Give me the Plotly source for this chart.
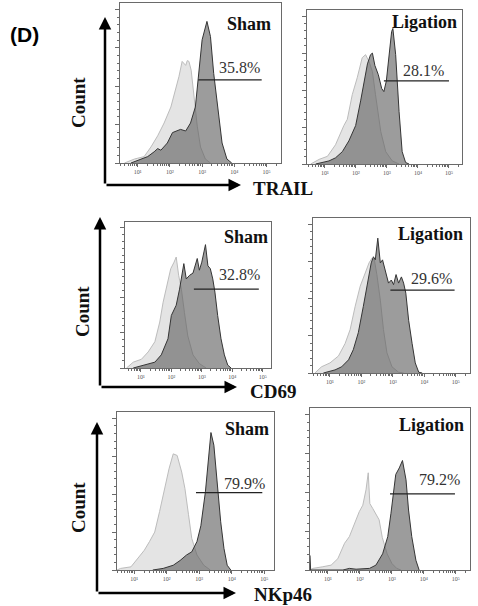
import numpy as np
import plotly.graph_objects as go

W, H = 478, 606

# x = log10 fluorescence, y = count as % of panel height
# light = control, dark = stained
trail_sham_ctrl_lx = [0.59, 0.9, 1.2, 1.41, 1.62, 1.82, 2.03, 2.18, 2.28, 2.38, 2.44, 2.49, 2.54, 2.59, 2.66, 2.74, 2.85, 2.95, 3.1, 3.26]
trail_sham_ctrl_y = [0, 2.5, 4, 10, 17, 25, 35, 46, 54, 63.5, 62, 61, 64, 63.5, 58, 44, 23, 10, 2.5, 0]
trail_sham_stain_lx = [0.79, 1.31, 1.51, 1.62, 1.72, 1.92, 2.08, 2.23, 2.33, 2.49, 2.64, 2.79, 2.9, 3.0, 3.15, 3.26, 3.36, 3.51, 3.62, 3.77, 3.92]
trail_sham_stain_y = [0, 4, 7, 9, 8, 12.5, 19, 20, 21, 20, 25, 35, 56, 77, 88.5, 79, 56, 29, 12.5, 2.5, 0]

trail_lig_ctrl_lx = [0.54, 0.81, 1.08, 1.34, 1.61, 1.72, 1.88, 2.04, 2.2, 2.31, 2.42, 2.53, 2.63, 2.8, 2.96, 3.17, 3.39]
trail_lig_ctrl_y = [0, 3, 5, 12.5, 25, 29, 45, 56, 69, 71, 66.5, 60, 45, 21, 8, 2, 0]
trail_lig_stain_lx = [0.7, 1.13, 1.34, 1.56, 1.77, 1.99, 2.15, 2.26, 2.37, 2.47, 2.53, 2.61, 2.72, 2.83, 2.9, 2.98, 3.06, 3.15, 3.19, 3.28, 3.39, 3.49, 3.6, 3.71]
trail_lig_stain_y = [0, 2, 4, 8, 15, 25, 41, 54, 65, 71, 72, 64, 58, 49, 47, 54, 68, 86, 88, 71, 34, 8, 1, 0]

cd69_sham_ctrl_lx = [0.53, 0.75, 1.02, 1.24, 1.46, 1.62, 1.73, 1.87, 1.98, 2.09, 2.16, 2.24, 2.33, 2.43, 2.54, 2.71, 2.92, 3.14]
cd69_sham_ctrl_y = [0, 4, 6, 11, 18, 31.5, 45, 59, 68, 72.5, 76, 63.5, 54, 38, 22, 9, 3, 0]
cd69_sham_stain_lx = [0.75, 1.13, 1.46, 1.67, 1.89, 2.0, 2.16, 2.27, 2.35, 2.41, 2.49, 2.6, 2.71, 2.78, 2.85, 2.92, 3.0, 3.07, 3.12, 3.2, 3.28, 3.36, 3.43, 3.52, 3.63, 3.74, 3.85, 3.96]
cd69_sham_stain_y = [0, 2, 4, 9, 20, 36, 43, 54, 63.5, 71.5, 61, 63.5, 65, 70, 75, 67, 72.5, 79.5, 84.5, 70, 68, 61, 52, 36, 20, 9, 2, 0]

cd69_lig_ctrl_lx = [0.52, 0.73, 1.0, 1.27, 1.48, 1.64, 1.8, 1.96, 2.12, 2.24, 2.33, 2.41, 2.49, 2.6, 2.7, 2.81, 2.97, 3.18, 3.34]
cd69_lig_ctrl_y = [0, 4, 6.5, 11, 19, 28, 43, 56, 64.5, 71, 74, 73, 63.5, 47, 28, 13, 4, 0.5, 0]
cd69_lig_stain_lx = [0.79, 1.16, 1.37, 1.59, 1.74, 1.9, 2.06, 2.2, 2.31, 2.38, 2.44, 2.52, 2.6, 2.67, 2.76, 2.86, 2.95, 3.02, 3.1, 3.18, 3.27, 3.34, 3.41, 3.5, 3.61, 3.71, 3.82, 3.93]
cd69_lig_stain_y = [0, 2, 4, 8.5, 15, 26, 43, 60, 71, 75, 73, 87, 71, 73, 66, 58, 60, 57, 63.5, 58, 62, 58, 51.5, 34, 19, 6.5, 0.5, 0]

nkp46_sham_ctrl_lx = [0.47, 0.58, 0.9, 1.1, 1.31, 1.47, 1.63, 1.78, 1.94, 2.07, 2.2, 2.32, 2.46, 2.56, 2.67, 2.77, 2.93, 3.14, 3.34]
nkp46_sham_ctrl_y = [0, 1, 2, 7, 12.5, 18, 24, 37, 51.5, 64, 73.5, 72.5, 62, 51.5, 35, 20, 9.5, 3, 0]
nkp46_sham_stain_lx = [1.57, 1.89, 2.2, 2.41, 2.61, 2.77, 2.93, 3.05, 3.19, 3.29, 3.36, 3.45, 3.55, 3.66, 3.76, 3.86, 3.97]
nkp46_sham_stain_y = [0, 1, 3, 6, 9.5, 11.5, 18, 28, 49.5, 75, 87, 79, 54, 30.5, 13.7, 3, 0]

nkp46_lig_ctrl_lx = [0.44, 0.53, 0.84, 1.1, 1.31, 1.52, 1.67, 1.83, 1.98, 2.09, 2.14, 2.19, 2.26, 2.31, 2.4, 2.5, 2.6, 2.7, 2.85, 3.0, 3.15, 3.28]
nkp46_lig_ctrl_y = [0, 1, 2, 3, 7, 16.5, 20.6, 29, 36, 40, 45, 49.5, 60, 41, 38, 34, 31, 20, 10, 4, 1, 0]
nkp46_lig_stain_lx = [0.44, 0.46, 0.5, 1.47, 1.67, 1.88, 2.3, 2.5, 2.71, 2.87, 2.97, 3.07, 3.12, 3.23, 3.33, 3.44, 3.52, 3.62, 3.75, 3.85]
nkp46_lig_stain_y = [9, 0, 0, 0, 1, 0.5, 1, 3, 10, 20.6, 35, 49.5, 59, 63, 67.6, 55.7, 37, 20.6, 6, 0]

group_labels = ["Sham", "Ligation", "Sham", "Ligation", "Sham", "Ligation"]
pct_labels = ["35.8%", "28.1%", "32.8%", "29.6%", "79.9%", "79.2%"]
gate_lx = [(2.88, 4.85), (2.9, 5.0), (2.74, 4.87), (2.92, 4.96), (2.9, 4.94), (2.94, 4.97)]
gate_y = [52, 54, 54, 53.5, 49, 47]
marker_labels = ["TRAIL", "CD69", "NKp46"]

ctrl = [
    (trail_sham_ctrl_lx, trail_sham_ctrl_y), (trail_lig_ctrl_lx, trail_lig_ctrl_y),
    (cd69_sham_ctrl_lx, cd69_sham_ctrl_y), (cd69_lig_ctrl_lx, cd69_lig_ctrl_y),
    (nkp46_sham_ctrl_lx, nkp46_sham_ctrl_y), (nkp46_lig_ctrl_lx, nkp46_lig_ctrl_y),
]
stain = [
    (trail_sham_stain_lx, trail_sham_stain_y), (trail_lig_stain_lx, trail_lig_stain_y),
    (cd69_sham_stain_lx, cd69_sham_stain_y), (cd69_lig_stain_lx, cd69_lig_stain_y),
    (nkp46_sham_stain_lx, nkp46_sham_stain_y), (nkp46_lig_stain_lx, nkp46_lig_stain_y),
]

# panel boxes in pixels (x0, x1, y0, y1) and log x ranges
boxes = [(120, 281, 3, 163), (307, 462, 10, 164), (125, 271, 222, 368),
         (313, 470, 218, 373), (117, 274, 412, 570), (310, 470, 408, 570)]
xranges = [(0.45, 5.45), (0.42, 5.42), (0.48, 5.27), (0.46, 5.45), (0.47, 5.3), (0.44, 5.44)]
pct_pos = [(4.17, 60), (4.19, 61), (4.22, 64), (4.23, 61), (4.4, 55), (4.5, 56)]
label_pos = [(0.95, 0.87), (0.98, 0.92), (0.99, 0.9), (0.97, 0.9), (0.98, 0.89), (0.975, 0.895)]

SERIF = "Liberation Serif, Times New Roman, serif"

fig = go.Figure()
major = [10, 100, 1000, 1e4, 1e5]
minor = [m * 10 ** d for d in range(0, 6) for m in range(2, 10)]

for i in range(6):
    n = "" if i == 0 else str(i + 1)
    xa, ya = f"x{n}", f"y{n}"
    lx, y = ctrl[i]
    fig.add_trace(go.Scatter(x=10 ** np.array(lx), y=y, mode="lines", fill="tozeroy",
                             fillcolor="#e4e4e4", line=dict(color="#bcbcbc", width=1),
                             xaxis=xa, yaxis=ya, hoverinfo="skip"))
    lx, y = stain[i]
    fig.add_trace(go.Scatter(x=10 ** np.array(lx), y=y, mode="lines", fill="tozeroy",
                             fillcolor="rgba(95,95,95,0.62)", line=dict(color="#353535", width=1),
                             xaxis=xa, yaxis=ya, hoverinfo="skip"))
    g0, g1 = gate_lx[i]
    fig.add_trace(go.Scatter(x=[10 ** g0, 10 ** g1], y=[gate_y[i], gate_y[i]], mode="lines",
                             line=dict(color="#222", width=1.2), xaxis=xa, yaxis=ya, hoverinfo="skip"))

    x0, x1, y0, y1 = boxes[i]
    fig.update_layout(**{
        f"xaxis{n}": dict(type="log", range=list(xranges[i]), domain=[x0 / W, x1 / W], anchor=ya,
                          showline=True, mirror=True, linecolor="#6a6a6a", linewidth=1,
                          ticks="outside", ticklen=3, tickcolor="#6a6a6a",
                          tickvals=major, ticktext=["10¹", "10²", "10³", "10⁴", "10⁵"],
                          tickfont=dict(size=6, color="#555", family=SERIF),
                          showgrid=False, zeroline=False,
                          minor=dict(tickvals=minor, ticks="outside", ticklen=2, tickcolor="#6a6a6a")),
        f"yaxis{n}": dict(range=[0, 100], domain=[1 - y1 / H, 1 - y0 / H], anchor=xa,
                          showline=True, mirror=True, linecolor="#6a6a6a", linewidth=1,
                          ticks="outside", ticklen=4, tickcolor="#6a6a6a",
                          tickvals=[0, 24, 48, 72, 96], showticklabels=False,
                          showgrid=False, zeroline=False,
                          minor=dict(dtick=4.8, tick0=0, ticks="outside", ticklen=2, tickcolor="#6a6a6a")),
    })
    px, py = pct_pos[i]
    fig.add_annotation(x=px, y=py, xref=xa, yref=ya, text=pct_labels[i], showarrow=False,
                       xanchor="center", yanchor="middle",
                       font=dict(family=SERIF, size=16, color="#333"))
    lx_, ly_ = label_pos[i]
    fig.add_annotation(x=lx_, y=ly_, xref=f"{xa} domain", yref=f"{ya} domain", text=f"<b>{group_labels[i]}</b>",
                       showarrow=False, xanchor="right", yanchor="middle",
                       font=dict(family=SERIF, size=18, color="#111"))

# big axis arrows, "Count" and marker names, per row
arrow_rows = [(105, 17, 185, 241), (100, 217, 387, 237), (97, 422, 593, 236)]
count_pos = [(78, 103), (82, 312), (78, 508)]
marker_pos = [(283, 188), (273, 391), (283, 594)]
for r in range(3):
    ax_x, tip_y, base_y, tip_x = arrow_rows[r]
    fig.add_annotation(x=ax_x / W, y=1 - tip_y / H, xref="paper", yref="paper", text="",
                       showarrow=True, ax=0, ay=base_y - tip_y, arrowhead=2, arrowsize=1,
                       arrowwidth=2.5, arrowcolor="#000", standoff=0)
    fig.add_annotation(x=tip_x / W, y=1 - base_y / H, xref="paper", yref="paper", text="",
                       showarrow=True, ax=-(tip_x - ax_x), ay=0, arrowhead=2, arrowsize=1,
                       arrowwidth=2.5, arrowcolor="#000", standoff=0)
    cx, cy = count_pos[r]
    fig.add_annotation(x=cx / W, y=1 - cy / H, xref="paper", yref="paper", text="<b>Count</b>",
                       textangle=-90, showarrow=False, xanchor="center", yanchor="middle",
                       font=dict(family=SERIF, size=19, color="#111"))
    mx, my = marker_pos[r]
    fig.add_annotation(x=mx / W, y=1 - my / H, xref="paper", yref="paper", text=f"<b>{marker_labels[r]}</b>",
                       showarrow=False, xanchor="center", yanchor="middle", borderpad=0,
                       font=dict(family=SERIF, size=19, color="#111"))

fig.add_annotation(x=24 / W, y=1 - 34 / H, xref="paper", yref="paper", text="<b>(D)</b>", showarrow=False,
                   xanchor="center", yanchor="middle",
                   font=dict(family="Liberation Sans, Arial, sans-serif", size=21, color="#000"))

fig.update_layout(width=W, height=H, margin=dict(l=0, r=0, t=0, b=0), showlegend=False,
                  plot_bgcolor="white", paper_bgcolor="white")

fig.write_html("out.html", config={"displayModeBar": False},
               post_script="document.body.style.margin='0';")
